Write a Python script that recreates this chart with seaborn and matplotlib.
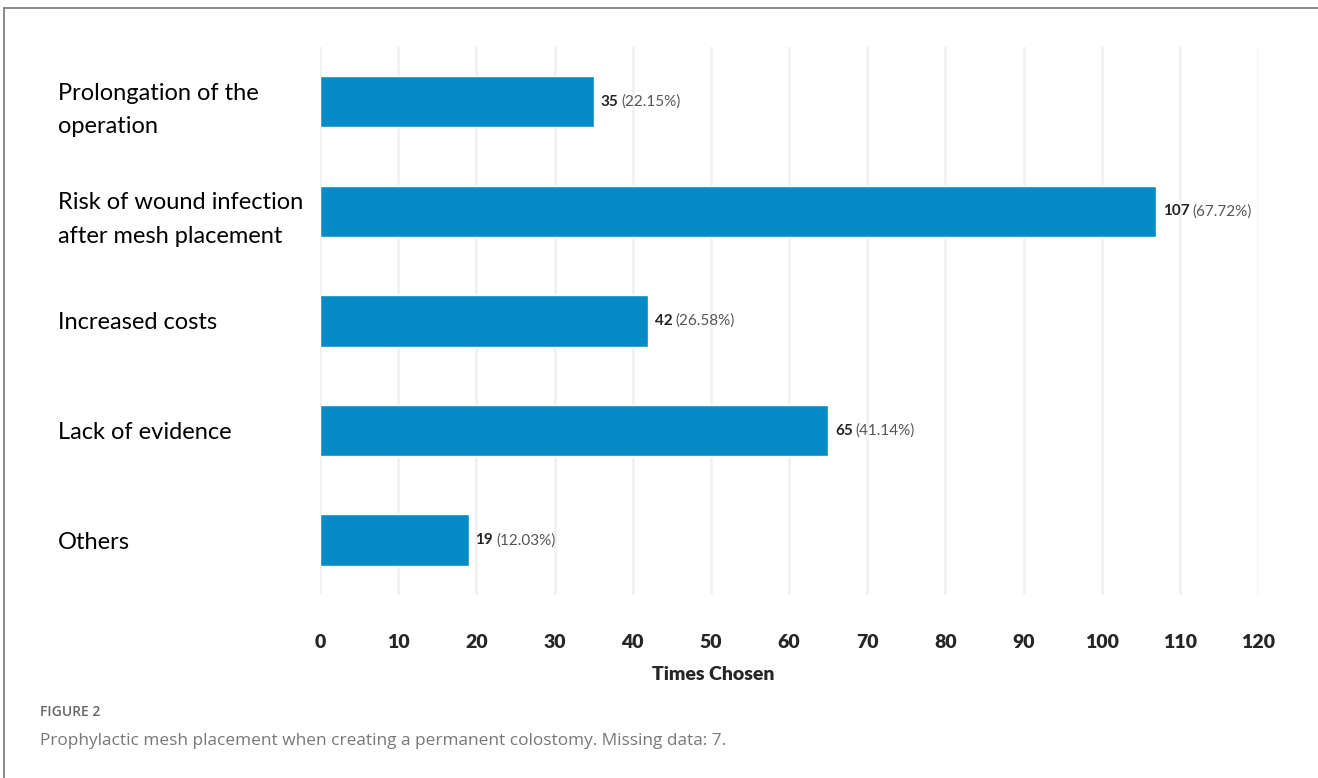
import matplotlib.pyplot as plt
import pandas as pd
import seaborn as sns
from matplotlib.lines import Line2D

CATEGORIES = [
    "Prolongation of the\noperation",
    "Risk of wound infection\nafter mesh placement",
    "Increased costs",
    "Lack of evidence",
    "Others",
]
COUNTS = [35, 107, 42, 65, 19]
PERCENTS = [22.15, 67.72, 26.58, 41.14, 12.03]
X_TICKS = list(range(0, 121, 10))

BAR_COLOR = "#078BC6"

df = pd.DataFrame({"reason": CATEGORIES, "count": COUNTS, "pct": PERCENTS})

sns.set_theme(style="white")
plt.rcParams["font.family"] = ["Lato", "DejaVu Sans"]

fig = plt.figure(figsize=(13.18, 7.78), dpi=100)
ax = fig.add_axes([0.2428, 0.2352, 0.7117, 0.7045])

sns.barplot(data=df, x="count", y="reason", orient="h", color=BAR_COLOR,
            saturation=1, width=0.47, ax=ax, zorder=3)

ax.set_xlim(0, 120)
ax.set_xticks(X_TICKS)
ax.set_xticklabels([str(t) for t in X_TICKS], fontsize=14, fontweight="heavy")
ax.tick_params(axis="x", length=0, pad=28)
ax.xaxis.grid(True, color="#f0f0f0", lw=1.8, zorder=0)
ax.yaxis.grid(False)
for s in ax.spines.values():
    s.set_visible(False)

# category labels left aligned far to the left of the axis
ax.tick_params(axis="y", length=0, pad=189)
for lab in ax.get_yticklabels():
    lab.set_ha("left")
    lab.set_fontsize(17)
    lab.set_linespacing(1.75)
    lab.set_color("black")
ax.set_ylabel("")

ax.set_xlabel("Times Chosen", fontsize=14, fontweight="heavy", labelpad=12)
ax.xaxis.set_label_coords(0.419, -0.13)

# value labels: bold count + grey percentage
for i, row in df.iterrows():
    a = ax.annotate(str(row["count"]), xy=(row["count"], i),
                    xytext=(5, 0), textcoords="offset points",
                    va="center", ha="left", fontsize=11, fontweight="bold",
                    color="#222222")
    ax.annotate(f"({row['pct']:.2f}%)", xy=(1, 0.5), xycoords=a,
                xytext=(2, 0), textcoords="offset points",
                va="center", ha="left", fontsize=11, color="#555555")

# frame lines (top and left only)
fig.add_artist(Line2D([0.003, 1.0], [0.9897, 0.9897], color="#808080", lw=1.3))
fig.add_artist(Line2D([0.003, 0.003], [0.0, 0.9897], color="#808080", lw=1.3))

fig.text(0.030, 0.085, "FIGURE 2", fontsize=10, color="#666666",
         fontweight="semibold", family=["Open Sans", "DejaVu Sans"],
         va="center")
fig.text(0.030, 0.048,
         "Prophylactic mesh placement when creating a permanent colostomy. "
         "Missing data: 7.",
         fontsize=12.4, color="#777777", family=["Open Sans", "DejaVu Sans"],
         va="center")

fig.savefig("out.png", dpi=100)
